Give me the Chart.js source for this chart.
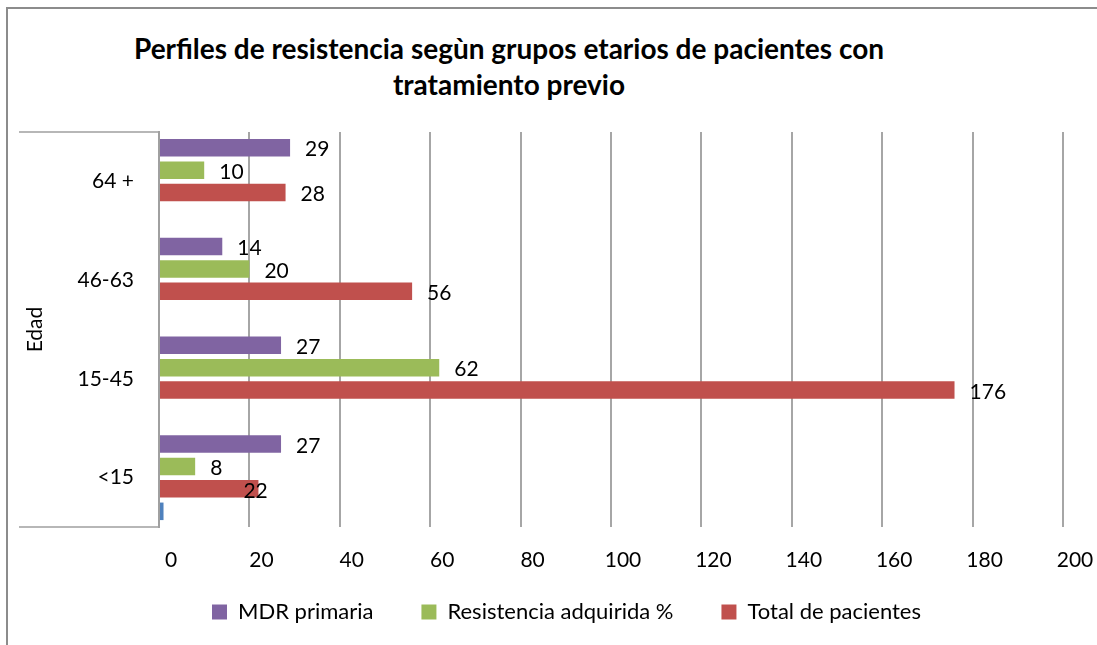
<!DOCTYPE html>
<html>
<head>
<meta charset="utf-8">
<title>Perfiles de resistencia</title>
<script src="https://cdn.jsdelivr.net/npm/chart.js@4.4.1/dist/chart.umd.min.js"></script>
<style>
    html, body { margin: 0; padding: 0; background: #fff; overflow: hidden; }
    #wrap { position: relative; width: 1097px; height: 645px; }
    #frame {
        position: absolute; left: 6px; top: 7px; width: 1200px; height: 700px;
        border-top: 2px solid #8c8c8c; border-left: 2px solid #8c8c8c;
    }
    #chart-title {
        position: absolute; left: 59px; top: 30px; width: 900px;
        text-align: center; font-family: Lato, sans-serif; font-weight: bold;
        font-size: 28px; line-height: 36px; color: #000;
    }
    canvas { position: absolute; left: 0; top: 0; }
</style>
</head>
<body>
<div id="wrap">
    <div id="frame"></div>
    <div id="chart-title">Perfiles de resistencia segùn grupos etarios de pacientes con<br>tratamiento previo</div>
    <canvas id="resistencia-chart" width="1097" height="645"></canvas>
</div>
<script>
const categories = ['64 +', '46-63', '15-45', '<15'];
const mdrPrimaria = [29, 14, 27, 27];
const resistenciaAdquirida = [10, 20, 62, 8];
const totalPacientes = [28, 56, 176, 22];
const serieSinNombre = [0, 0, 0, 1];
const xTickValues = [0, 20, 40, 60, 80, 100, 120, 140, 160, 180, 200];

const FONT = 'Lato, sans-serif';

// the "22" label sits over the end of its bar in the original
const labelNudge = { '2:3': -30 };

const valueLabels = {
    id: 'valueLabels',
    afterDatasetsDraw(chart) {
        const ctx = chart.ctx;
        ctx.save();
        ctx.font = '21px ' + FONT;
        ctx.fillStyle = '#000';
        ctx.textAlign = 'left';
        ctx.textBaseline = 'middle';
        chart.data.datasets.forEach((ds, di) => {
            if (!ds.showLabels) return;
            chart.getDatasetMeta(di).data.forEach((bar, i) => {
                const nudge = labelNudge[di + ':' + i] || 0;
                ctx.fillText(String(ds.data[i]), bar.x + 15 + nudge, bar.y + 2);
            });
        });
        ctx.restore();
    }
};

const axisBracket = {
    id: 'axisBracket',
    afterDraw(chart) {
        const ctx = chart.ctx;
        const area = chart.chartArea;
        ctx.save();
        ctx.strokeStyle = '#a0a0a0';
        ctx.lineWidth = 1.5;
        ctx.beginPath();
        ctx.moveTo(19, area.top);
        ctx.lineTo(area.left, area.top);
        ctx.moveTo(19, area.bottom);
        ctx.lineTo(area.left, area.bottom);
        ctx.stroke();
        ctx.restore();
    }
};

const ctx = document.getElementById('resistencia-chart').getContext('2d');

new Chart(ctx, {
    type: 'bar',
    data: {
        labels: categories,
        datasets: [
            { label: 'MDR primaria', data: mdrPrimaria, backgroundColor: '#8064A2', showLabels: true },
            { label: 'Resistencia adquirida %', data: resistenciaAdquirida, backgroundColor: '#9BBB59', showLabels: true },
            { label: 'Total de pacientes', data: totalPacientes, backgroundColor: '#C0504D', showLabels: true },
            { label: '', data: serieSinNombre, backgroundColor: '#4F81BD', showLabels: false }
        ]
    },
    options: {
        indexAxis: 'y',
        responsive: false,
        maintainAspectRatio: false,
        animation: false,
        devicePixelRatio: 1,
        datasets: {
            bar: { categoryPercentage: 0.91, barPercentage: 0.78, borderWidth: 0 }
        },
        layout: {
            padding: { top: 132, left: 70, right: 34, bottom: 12 }
        },
        plugins: {
            title: { display: false },
            tooltip: { enabled: false },
            legend: {
                position: 'bottom',
                labels: {
                    boxWidth: 15,
                    boxHeight: 15,
                    padding: 48,
                    color: '#000',
                    font: { family: FONT, size: 22 },
                    filter: item => item.text !== ''
                }
            }
        },
        scales: {
            x: {
                min: 0,
                max: 200,
                afterBuildTicks: scale => {
                    scale.ticks = xTickValues.map(v => ({ value: v }));
                },
                afterFit: scale => {
                    // legend padding overlaps this box, so keep the labels unclipped
                    scale.height = 26;
                    scale.paddingLeft = 0;
                    scale.paddingRight = 0;
                    scale._computeLabelArea = () => undefined;
                },
                grid: { color: '#a6a6a6', lineWidth: 2, drawTicks: false },
                border: { display: false },
                ticks: {
                    color: '#000',
                    padding: 21,
                    labelOffset: 12,
                    font: { family: FONT, size: 21 }
                }
            },
            y: {
                afterFit: scale => { scale.width = 89; },
                grid: { display: false, drawTicks: false },
                border: { display: true, color: '#a0a0a0', width: 2 },
                ticks: {
                    color: '#000',
                    padding: 25,
                    font: { family: FONT, size: 21 }
                },
                title: {
                    display: true,
                    text: 'Edad',
                    color: '#000',
                    padding: { top: -47, bottom: 0 },
                    font: { family: FONT, size: 21 }
                }
            }
        }
    },
    plugins: [valueLabels, axisBracket]
});
</script>
</body>
</html>
